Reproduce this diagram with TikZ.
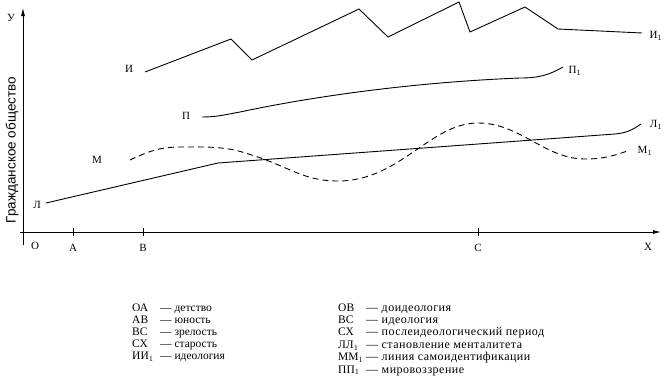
\documentclass[tikz,border=0pt]{standalone}
\usepackage{fontspec}
\setmainfont{Liberation Serif}
\newfontfamily\axisfont{Liberation Sans}
\newfontfamily\widefont[LetterSpace=4]{Liberation Serif}
\usetikzlibrary{arrows.meta}
\begin{document}
\begin{tikzpicture}[
		x=1pt, y=-1pt,
		axis/.style={
				line width=0.8pt,
				-{Latex[length=8pt,width=4pt]}
			},
		curve/.style={
				line width=0.9pt,
				line join=round
			},
		lbl/.style={
				font=\fontsize{11}{12}\selectfont,
				inner sep=1pt
			},
		legend/.style={
				anchor=base west,
				inner sep=0pt,
				font=\fontsize{11.5}{12}\selectfont
			},
		wlegend/.style={
				anchor=base west,
				inner sep=0pt,
				font=\widefont\fontsize{12}{12}\selectfont
			}
	]
	\useasboundingbox (0,0) rectangle (665,383);
	% axes
	\coordinate (O) at (23,232);
	\draw[axis] (23,245) -- (23,8);
	\draw[axis] (20,232) -- (661,232);
	\node[lbl] (y) at (11,18) {У};
	\node[lbl] (x) at (648,247) {Х};
	\node[lbl] (o) at (35,246) {О};
	\foreach \name/\xpos in {A/73, B/143, C/478} {
		\draw[line width=0.6pt] (\xpos,228) -- (\xpos,236);
		\node[lbl] (\name) at (\xpos,248) {\name};
	}
	\node[rotate=90, font=\axisfont\fontsize{13.5}{14}\selectfont] (ylab) at (12,150) {Гражданское общество};
	% Л
	\draw[curve] (46,203) -- (218,163) -- (615,134) to[out=5,in=215] (641,124);
	\node[lbl] (L) at (37,205) {Л};
	\node[lbl] (L1) at (656,125) {Л$_1$};
	% И
	\draw[curve] (145,72) -- (231,39) -- (252,60) -- (359,9) -- (388,37) -- (459,2)
		-- (470,32) -- (525,7) -- (558,29) -- (642,33);
	\node[lbl] (I) at (129,69) {И};
	\node[lbl] (I1) at (656,36) {И$_1$};
	% П
	\draw[curve] (202,117) to[out=0,in=190] (240,112)
		.. controls (320,95) and (420,82) .. (520,78)
		to[out=0,in=210] (563,67);
	\node[lbl] (P) at (186,116) {П};
	\node[lbl] (P1) at (575,71) {П$_1$};
	% М
	\draw[curve, dash pattern=on 6pt off 4pt] (130,160)
		to[out=25,in=180] (180,147)
		to[out=0,in=170] (235,150)
		.. controls (290,165) and (300,181) .. (338,181)
		.. controls (400,181) and (430,123) .. (478,123)
		.. controls (520,123) and (545,159) .. (585,159)
		to[out=0,in=200] (630,150);
	\node[lbl] (M) at (97,160) {М};
	\node[lbl] (M1) at (645,151) {М$_1$};
	% legend
	\foreach \ab/\txt [count=\i] in {ОА/детство, АВ/юность, ВС/зрелость, СХ/старость, ИИ$_1$/идеология} {
		\node[legend] (la\i) at (132,{311+12.2*(\i-1)}) {\ab};
		\node[legend] (lb\i) at (160,{311+12.2*(\i-1)}) {— \txt};
	}
	\foreach \ab/\txt [count=\i] in {ОВ/доидеология, ВС/идеология, СХ/послеидеологический период,
		ЛЛ$_1$/становление менталитета, ММ$_1$/линия самоидентификации, ПП$_1$/мировоззрение} {
		\node[legend] (ra\i) at (338,{311+12.4*(\i-1)}) {\ab};
		\node[wlegend] (rb\i) at (366,{311+12.4*(\i-1)}) {— \txt};
	}
\end{tikzpicture}
\end{document}
